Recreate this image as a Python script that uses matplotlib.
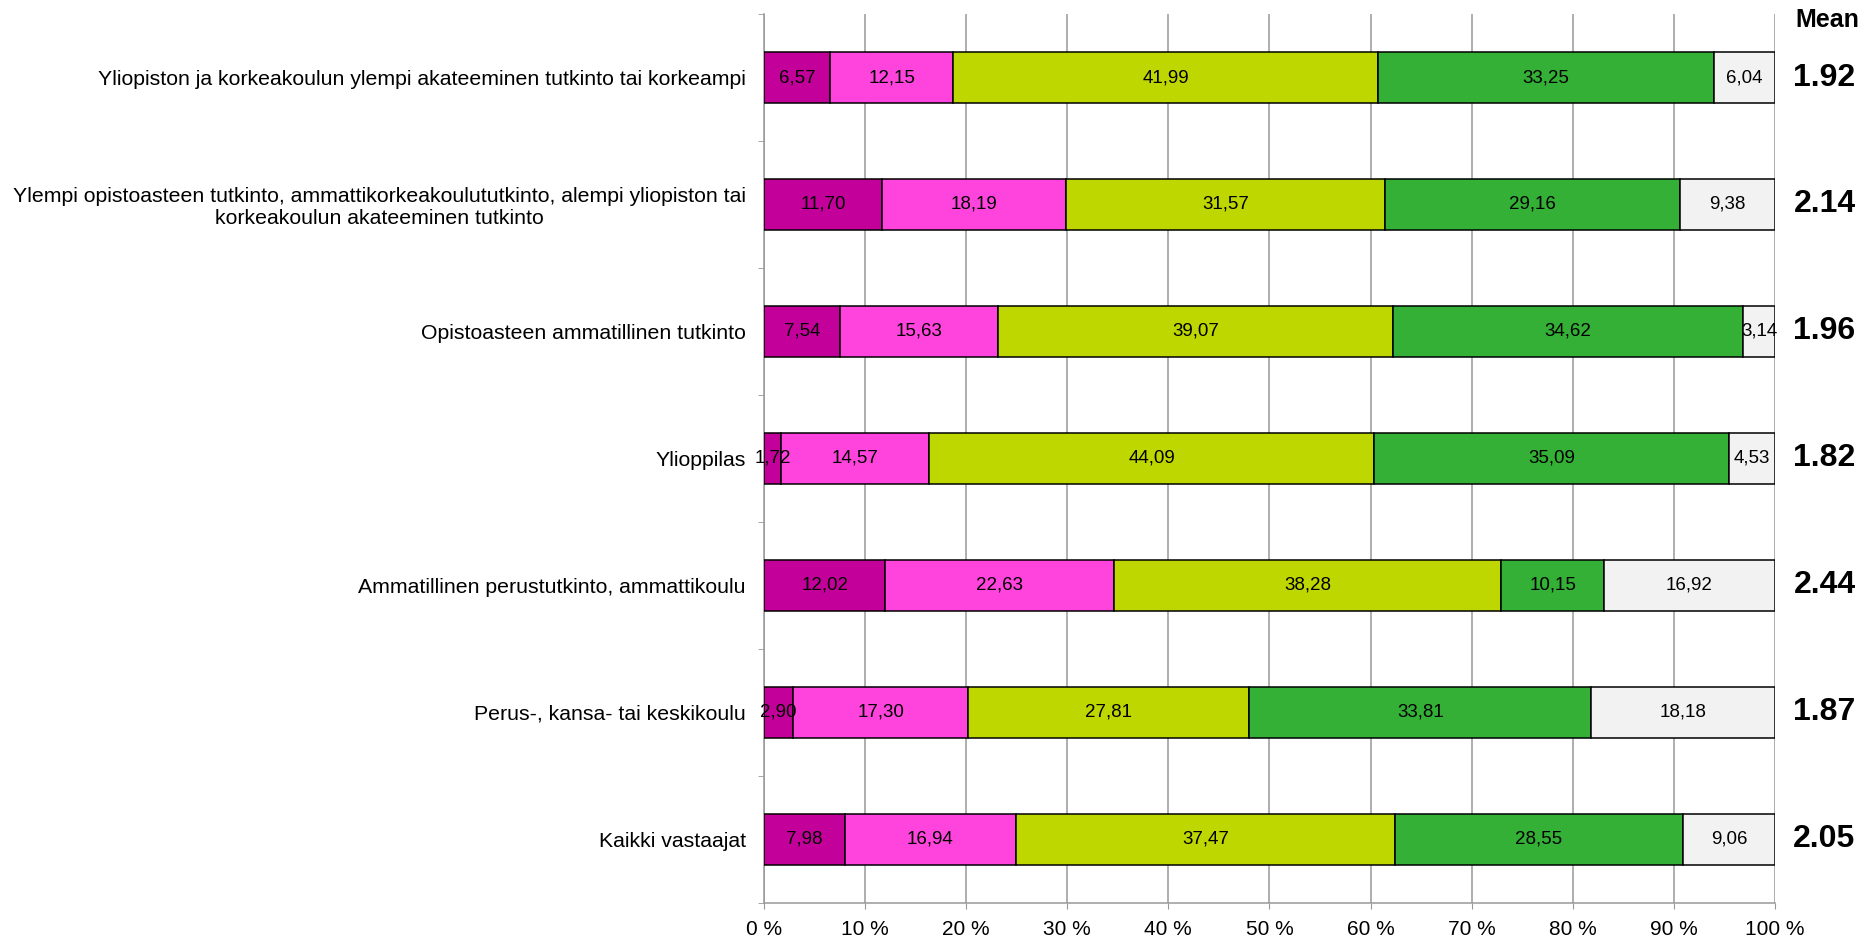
import numpy as np
import matplotlib.pyplot as plt

plt.rcParams['font.family'] = ['Liberation Sans', 'DejaVu Sans']

# Categories, top to bottom
categories = [
    'Yliopiston ja korkeakoulun ylempi akateeminen tutkinto tai korkeampi',
    'Ylempi opistoasteen tutkinto, ammattikorkeakoulututkinto, alempi yliopiston tai\nkorkeakoulun akateeminen tutkinto',
    'Opistoasteen ammatillinen tutkinto',
    'Ylioppilas',
    'Ammatillinen perustutkinto, ammattikoulu',
    'Perus-, kansa- tai keskikoulu',
    'Kaikki vastaajat',
]

# Segment values (%) per category
seg1 = [6.57, 11.70, 7.54, 1.72, 12.02, 2.90, 7.98]
seg2 = [12.15, 18.19, 15.63, 14.57, 22.63, 17.30, 16.94]
seg3 = [41.99, 31.57, 39.07, 44.09, 38.28, 27.81, 37.47]
seg4 = [33.25, 29.16, 34.62, 35.09, 10.15, 33.81, 28.55]
seg5 = [6.04, 9.38, 3.14, 4.53, 16.92, 18.18, 9.06]

means = [1.92, 2.14, 1.96, 1.82, 2.44, 1.87, 2.05]

colors = ['#C4009B', '#FF44DD', '#BFD700', '#33B035', '#F2F2F2']

fig = plt.figure(figsize=(18.66, 9.4), dpi=100)
ax = fig.add_axes([0.4094, 0.0394, 0.5418, 0.9457])

n = len(categories)
y = np.arange(n)[::-1]

# Draw stacked bars
left = np.zeros(n)
for vals, col in zip([seg1, seg2, seg3, seg4, seg5], colors):
    vals = np.array(vals)
    ax.barh(y, vals, left=left, height=0.4, color=col, edgecolor='black',
            linewidth=1.1, zorder=3)
    for yi, l, v in zip(y, left, vals):
        ax.text(l + v / 2, yi, f'{v:.2f}'.replace('.', ','), ha='center',
                va='center', fontsize=13.5, color='black', zorder=4)
    left += vals

# Mean column
ax.text(105.2, 6.45, 'Mean', ha='center', va='center', fontsize=18,
        fontweight='bold', clip_on=False)
for yi, m in zip(y, means):
    ax.text(104.9, yi, f'{m:.2f}', ha='center', va='center', fontsize=23,
            fontweight='bold', clip_on=False)

ax.set_xlim(0, 100)
ax.set_ylim(-0.5, n - 0.5)

# x axis
ax.set_xticks(np.arange(0, 101, 10))
ax.set_xticklabels([f'{t} %' for t in range(0, 101, 10)], fontsize=15)
ax.tick_params(axis='x', direction='out', length=4, color='#999999', pad=8)
ax.grid(axis='x', color='#999999', linewidth=1.1, zorder=0)

# y axis: labels at centers, ticks at boundaries
ax.set_yticks(y)
ax.set_yticklabels(categories, fontsize=15.3)
for lab in ax.get_yticklabels():
    lab.set_multialignment('center')
ax.tick_params(axis='y', which='major', length=0, pad=13)
ax.set_yticks(np.arange(-0.5, n, 1), minor=True)
ax.tick_params(axis='y', which='minor', direction='out', length=4, color='#999999')

for side in ['top', 'right']:
    ax.spines[side].set_visible(False)
for side in ['left', 'bottom']:
    ax.spines[side].set_color('#999999')
    ax.spines[side].set_linewidth(1.1)

plt.savefig('out.png', dpi=100)
